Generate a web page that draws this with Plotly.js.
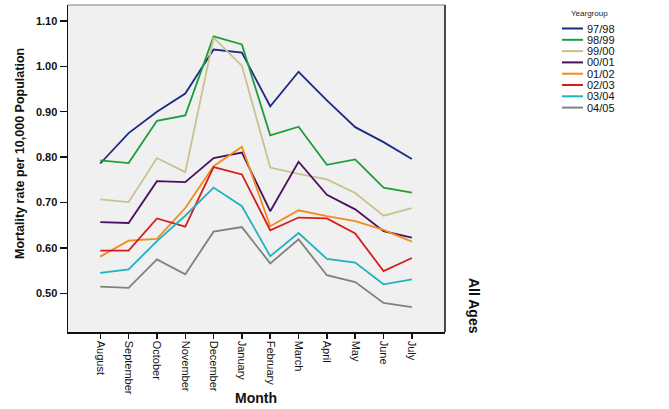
<!DOCTYPE html>
<html><head><meta charset="utf-8">
<script src="https://cdn.plot.ly/plotly-3.0.1.min.js"></script>
<style>html,body{margin:0;padding:0;background:#fff;}#chart{width:669px;height:409px;}</style>
</head><body><div id="chart"></div>
<script>
const months = ["August","September","October","November","December","January","February","March","April","May","June","July"];
const groups = ["97/98","98/99","99/00","00/01","01/02","02/03","03/04","04/05"];
const colors = ["#1c2a84","#1e9e3a","#c9c28f","#4a0f5e","#f08c1e","#d41e1e","#1fb3c0","#808080"];
const s9798 = [0.786,0.853,0.900,0.940,1.037,1.030,0.912,0.988,0.925,0.866,0.833,0.796];
const s9899 = [0.793,0.787,0.880,0.892,1.066,1.048,0.848,0.867,0.783,0.795,0.733,0.722];
const s9900 = [0.707,0.701,0.798,0.767,1.063,1.001,0.777,0.763,0.751,0.721,0.671,0.688];
const s0001 = [0.657,0.655,0.747,0.745,0.798,0.810,0.681,0.790,0.717,0.685,0.637,0.623];
const s0102 = [0.581,0.616,0.620,0.688,0.780,0.823,0.648,0.683,0.670,0.659,0.640,0.614];
const s0203 = [0.594,0.594,0.665,0.647,0.778,0.762,0.639,0.667,0.665,0.632,0.549,0.578];
const s0304 = [0.545,0.553,0.615,0.671,0.733,0.692,0.582,0.633,0.576,0.568,0.520,0.531];
const s0405 = [0.515,0.512,0.575,0.542,0.636,0.646,0.566,0.619,0.540,0.525,0.479,0.470];
const series = [s9798,s9899,s9900,s0001,s0102,s0203,s0304,s0405];
const yTicks = [0.50,0.60,0.70,0.80,0.90,1.00,1.10];

const W=669,H=409, L=68, R=224, T=5, B=77;
const pw = W-L-R, ph = H-T-B;
const px = x => (x-L)/pw;
const py = y => (H-B-y)/ph;

const traces = series.map((s,i)=>({
  type:'scatter', mode:'lines', x: months, y: s, name: groups[i],
  line:{color:colors[i], width:1.8}, showlegend:false, hoverinfo:'skip'
}));

const shapes = [
  {type:'line', xref:'paper', yref:'paper', x0:0, x1:1, y0:1, y1:1, line:{color:'#a8a8a8', width:1.5}},
  {type:'line', xref:'paper', yref:'paper', x0:1, x1:1, y0:0, y1:1, line:{color:'#111', width:1.5}}
];
const annotations = [
  {xref:'paper', yref:'paper', x:px(20), y:py(154), xanchor:'center', yanchor:'middle', text:'Mortality rate per 10,000 Population', textangle:-90, showarrow:false,
   font:{family:'Liberation Sans, Arial, sans-serif', size:12.5, color:'#111', weight:'bold'}},
  {xref:'paper', yref:'paper', x:px(256), y:py(398), xanchor:'center', yanchor:'middle', text:'Month', showarrow:false,
   font:{family:'Liberation Sans, Arial, sans-serif', size:14, color:'#111', weight:'bold'}},
  {xref:'paper', yref:'paper', x:px(474), y:py(306), xanchor:'center', yanchor:'middle', text:'All Ages', textangle:90, showarrow:false,
   font:{family:'Liberation Sans Narrow, Liberation Sans, Arial, sans-serif', size:14, color:'#111', weight:'bold'}},
  {xref:'paper', yref:'paper', x:px(589), y:py(14), xanchor:'center', yanchor:'middle', text:'Yeargroup', showarrow:false,
   font:{family:'Liberation Sans, Arial, sans-serif', size:8, color:'#222'}}
];
groups.forEach((g,i)=>{
  const yy = 28.5 + i*11.3;
  shapes.push({type:'line', xref:'paper', yref:'paper', x0:px(562), x1:px(583), y0:py(yy), y1:py(yy), line:{color:colors[i], width:2}});
  annotations.push({xref:'paper', yref:'paper', x:px(585), y:py(yy), xanchor:'left', yanchor:'middle', text:g, showarrow:false,
    font:{family:'Liberation Sans, Arial, sans-serif', size:11, color:'#111'}});
});

const layout = {
  width:W, height:H, margin:{l:L, r:R, t:T, b:B},
  paper_bgcolor:'#ffffff', plot_bgcolor:'#f0f0f0', showlegend:false,
  xaxis:{type:'category', range:[-1.14, 11+1.17], showgrid:false, zeroline:false,
    showline:true, linecolor:'#111', linewidth:1.5, ticks:'outside', ticklen:5, tickcolor:'#111', tickwidth:1.5,
    tickangle:90, tickfont:{family:'Liberation Sans Narrow, Liberation Sans, Arial, sans-serif', size:11, color:'#111'}},
  yaxis:{range:[0.415, 1.135], tickvals:yTicks, ticktext:yTicks.map(v=>v.toFixed(2)), showgrid:false, zeroline:false,
    showline:true, linecolor:'#111', linewidth:1.5, ticks:'outside', ticklen:7, tickcolor:'#111', tickwidth:1.5,
    tickfont:{family:'Liberation Sans, Arial, sans-serif', size:11, color:'#111', weight:'bold'}},
  shapes: shapes, annotations: annotations
};
Plotly.newPlot('chart', traces, layout, {displayModeBar:false, staticPlot:true});
</script></body></html>
